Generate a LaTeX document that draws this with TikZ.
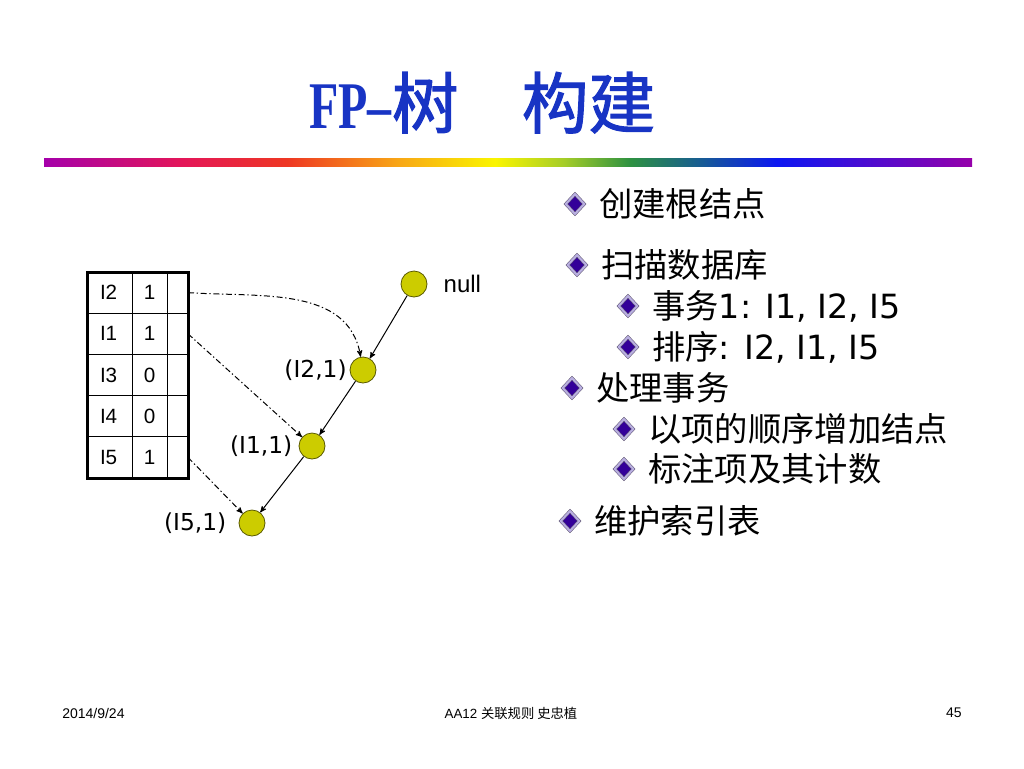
\documentclass[tikz,border=0pt]{standalone}
\usepackage{fontspec}
\setmainfont{Liberation Sans}
\newfontfamily\cjk{Noto Sans CJK SC}
\newfontfamily\cjktitle{Noto Sans CJK SC}[FakeBold=1.6]
\newfontfamily\dv{DejaVu Sans}
\newfontfamily\titleserif{Liberation Serif}[FakeStretch=0.72]
\usetikzlibrary{arrows}
\usetikzlibrary{positioning,shapes.geometric}

\definecolor{titleblue}{RGB}{24,52,196}
\definecolor{nodefill}{RGB}{204,204,0}
\definecolor{nodeedge}{RGB}{90,90,0}
\definecolor{bulletfill}{RGB}{51,0,153}
\definecolor{bulletedge}{RGB}{185,175,225}
\definecolor{bulletrim}{RGB}{90,80,110}
\definecolor{rb0}{RGB}{165,0,170}
\definecolor{rb1}{RGB}{228,22,88}
\definecolor{rb2}{RGB}{238,55,35}
\definecolor{rb3}{RGB}{248,165,22}
\definecolor{rb4}{RGB}{250,245,0}
\definecolor{rb5}{RGB}{165,205,40}
\definecolor{rb6}{RGB}{45,145,65}
\definecolor{rb7}{RGB}{22,90,150}
\definecolor{rb8}{RGB}{12,22,242}
\definecolor{rb9}{RGB}{150,0,170}
\pgfdeclarehorizontalshading{rainbowbar}{100bp}{color(0bp)=(rb0); color(25bp)=(rb0);
 color(32.5bp)=(rb1); color(38.1bp)=(rb2); color(44bp)=(rb3); color(49.3bp)=(rb4);
 color(53bp)=(rb5); color(56.6bp)=(rb6); color(60.5bp)=(rb7); color(64.5bp)=(rb8);
 color(75bp)=(rb9); color(100bp)=(rb9)}

\begin{document}
\begin{tikzpicture}[x=0.75pt,y=-0.75pt,
  cell/.style={draw,line width=0.75pt,outer sep=0pt,minimum height=30.9pt,
    font=\fontsize{15.5pt}{15.5pt}\selectfont},
  itemcell/.style={cell,anchor=north west,inner xsep=9.75pt,inner ysep=0pt,
    text width=14.25pt,align=left},
  cntcell/.style={cell,inner sep=0pt,minimum width=26.25pt},
  ptrcell/.style={cell,inner sep=0pt,minimum width=15.75pt},
  treenode/.style={circle,draw=nodeedge,fill=nodefill,line width=0.6pt,
    minimum size=19.5pt,inner sep=0pt},
  countlbl/.style={inner sep=0pt,font=\dv\fontsize{17.5pt}{17.5pt}\selectfont},
  treeedge/.style={->,>=stealth',line width=0.75pt},
  indexlink/.style={->,>=stealth',line width=0.75pt,
    dash pattern=on 4.5pt off 2pt on 1pt off 2pt},
  bulletmark/.style={diamond,fill=bulletfill,draw=bulletrim,line width=0.4pt,
    double=bulletedge,double distance=1.6pt,inner sep=0pt,
    minimum width=14pt,minimum height=15pt},
  itemtext/.style={inner sep=0pt,font=\cjk\fontsize{25pt}{25pt}\selectfont},
  footer/.style={inner sep=0pt,font=\fontsize{10.5pt}{10.5pt}\selectfont}]
\useasboundingbox (0,0) rectangle (1024,768);

% title and bar
\node[anchor=base west,inner sep=0pt,text=titleblue] (title) at (309,128)
  {\fontsize{50pt}{50pt}\selectfont{\titleserif\bfseries FP–}{\cjktitle 树\hspace{0.95em}构建}};
\shade[shading=rainbowbar] (44,158) rectangle (972,166);

% header table
\foreach \item/\cnt [count=\r] in {I2/1,I1/1,I3/0,I4/0,I5/1} {
 \node[itemcell] (n\r) at (87,{272+41.2*(\r-1)}) {\item};
 \node[cntcell,right=0pt of n\r] (c\r) {\cnt};
 \node[ptrcell,right=0pt of c\r] (p\r) {};
}
\draw[line width=2.25pt] (n1.north west) rectangle (p5.south east);

% tree
\node[treenode] (root) at (414,284) {};
\node[treenode] (i2) at (363,370) {};
\node[treenode] (i1) at (312,446) {};
\node[treenode] (i5) at (252,523) {};
\node[inner sep=0pt,font=\fontsize{18pt}{18pt}\selectfont,right=12pt of root] (nulllbl) {null};
\node[countlbl,left=2pt of i2] (i2lbl) {(I2,1)};
\node[countlbl,left=4.5pt of i1] (i1lbl) {(I1,1)};
\node[countlbl,left=9pt of i5] (i5lbl) {(I5,1)};
\draw[treeedge] (root) -- (i2);
\draw[treeedge] (i2) -- (i1);
\draw[treeedge] (i1) -- (i5);
\draw[indexlink] (p1.east) to[out=-4,in=100] (i2);
\draw[indexlink] (p2.east) -- (i1);
\draw[indexlink] (p5.east) -- (i5);

% steps
\foreach \bx/\by/\txt [count=\k] in {575/204/{创建根结点},577/265/{扫描数据库},
  628/306/{事务{\dv 1: I1, I2, I5}},628/347/{排序{\dv : I2, I1, I5}},
  572/388/{处理事务},624/429/{以项的顺序增加结点},624/469/{标注项及其计数},
  570/521/{维护索引表}} {
 \node[bulletmark] (b\k) at (\bx,\by) {};
 \node[itemtext,right=18pt of b\k.center] (t\k) {\txt};
}

% footer
\node[footer,anchor=west] (date) at (62,713) {2014/9/24};
\node[footer,font=\fontsize{10pt}{10pt}\selectfont] (course) at (511,713) {AA12 {\cjk 关联规则 史忠植}};
\node[footer,anchor=east] (page) at (962,713) {45};
\end{tikzpicture}
\end{document}
